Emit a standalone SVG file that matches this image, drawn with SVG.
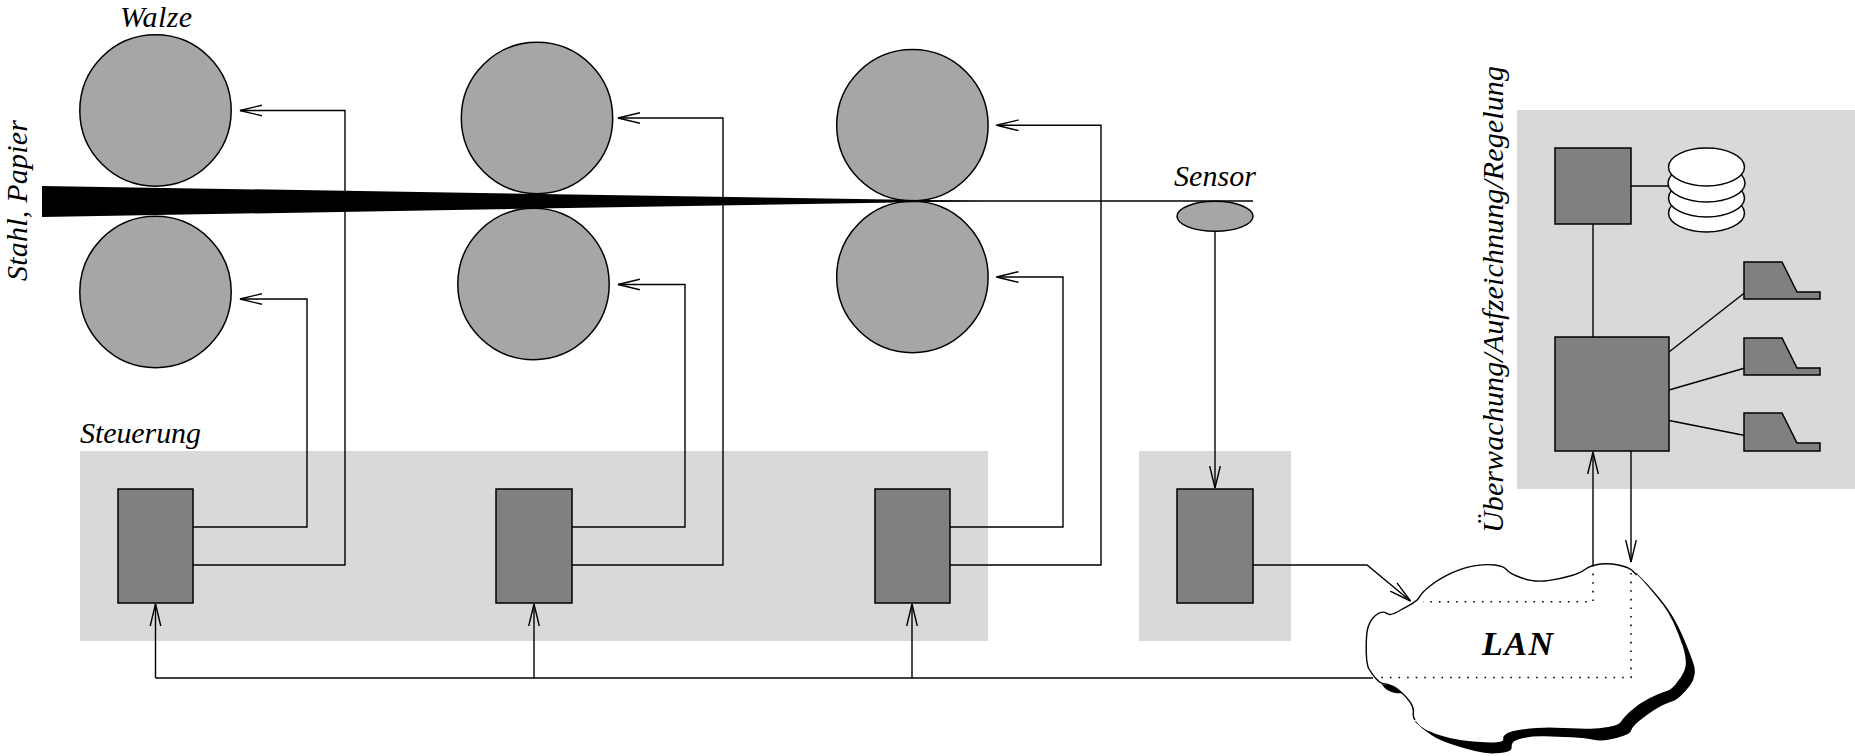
<svg xmlns="http://www.w3.org/2000/svg" width="1855" height="756" viewBox="0 0 1855 756">
<style>
.bg{fill:#d9d9d9;stroke:none}
.box{fill:#808080;stroke:#000;stroke-width:1.5}
.roll{fill:#a6a6a6;stroke:#000;stroke-width:1.5}
.disk{fill:#fff;stroke:#000;stroke-width:1.5}
.c{fill:none;stroke:#000;stroke-width:1.4}
.a{fill:none;stroke:#000;stroke-width:1.4;marker-end:url(#arr)}
.d{fill:none;stroke:#000;stroke-width:1.6;stroke-dasharray:1.6 7}
text{font-family:"Liberation Serif",serif;font-style:italic;font-size:30px;fill:#000}
</style>
<defs>
<marker id="arr" markerUnits="userSpaceOnUse" markerWidth="24" markerHeight="14" refX="22" refY="7" orient="auto"><path d="M0 1.7L22 7L0 12.3" fill="none" stroke="#000" stroke-width="1.4"/></marker>
</defs>
<rect class="bg" x="80" y="451" width="908" height="190"/>
<rect class="bg" x="1139" y="451" width="152" height="190"/>
<rect class="bg" x="1517" y="110" width="338" height="379"/>
<g id="rolls">
<circle class="roll" cx="155.5" cy="110.5" r="75.7"/>
<circle class="roll" cx="155.5" cy="292" r="75.7"/>
<circle class="roll" cx="537" cy="118" r="75.7"/>
<circle class="roll" cx="533.5" cy="284" r="75.7"/>
<circle class="roll" cx="912.4" cy="125.3" r="75.7"/>
<circle class="roll" cx="912.4" cy="277" r="75.7"/>
</g>
<path id="strip" d="M42 186L985 201L42 217Z" fill="#000"/>
<g id="lan">
<g transform="translate(1340 530) scale(.33333)">
<path d="M890,130 L920,160 Q965,210 982,235 Q1000,260 1015,290 Q1030,320 1042,352 Q1055,385 1060,400 Q1066,415 1064,432 Q1062,450 1051,465 Q1040,480 1025,495 Q1010,510 997,514 Q985,518 967,526 Q950,535 925,552 Q900,570 887,582 Q875,595 873,602 Q872,610 851,617 Q830,625 805,629 Q780,634 760,629 Q740,625 695,622 Q650,620 615,619 Q580,618 555,623 Q530,628 522,634 Q515,640 515,650 Q516,660 505,664 Q495,668 467,670 Q440,672 405,663 Q370,655 335,643 Q300,632 275,616 Q250,600 225,575Z" fill="#000"/>
<path d="M125,462 Q140,487 170,490 L190,490 L165,468Z" fill="#000"/>
<path d="M147,253 Q155,256 182,240 Q210,225 222,217 Q235,210 241,197 Q248,185 274,165 Q300,145 337,128 Q375,112 407,107 Q440,102 465,105 Q490,108 500,119 Q510,130 530,138 Q550,147 573,151 Q597,156 628,151 Q660,147 690,138 Q720,130 737,117 Q755,105 782,102 Q810,100 835,105 Q860,110 875,120 Q890,130 920,165 Q950,200 967,222 Q985,245 1000,277 Q1015,310 1028,347 Q1040,385 1037,407 Q1033,430 1014,453 Q998,478 978,484 Q958,490 928,505 Q898,520 873,542 Q848,565 843,575 Q838,585 804,591 Q770,598 735,596 Q700,594 645,593 Q590,592 550,598 Q510,604 499,611 Q488,618 490,626 Q492,633 481,635 Q470,638 435,637 Q400,636 365,631 Q330,626 300,616 Q270,606 255,598 Q240,590 229,575 Q218,560 220,547 Q222,535 211,517 Q200,500 182,485 Q165,470 152,466 Q140,462 130,461 Q120,460 107,445 Q95,430 87,417 Q80,405 79,372 Q78,340 80,315 Q82,290 93,272 Q105,255 116,250 Q128,245 134,247 Q140,250 147,253Z" fill="#fff"/>
<path d="M147,253 Q155,256 182,240 Q210,225 222,217 Q235,210 241,197 Q248,185 274,165 Q300,145 337,128 Q375,112 407,107 Q440,102 465,105 Q490,108 500,119 Q510,130 530,138 Q550,147 573,151 Q597,156 628,151 Q660,147 690,138 Q720,130 737,117 Q755,105 782,102 Q810,100 835,105 Q860,110 875,120 Q880,124 890,135 M225,570 Q218,560 220,547 Q222,535 211,517 Q200,500 182,485 Q165,470 152,466 Q140,462 130,461 Q120,460 107,445 Q95,430 87,417 Q80,405 79,372 Q78,340 80,315 Q82,290 93,272 Q105,255 116,250 Q128,245 134,247 Q140,250 147,253" fill="none" stroke="#000" stroke-width="4.2"/>
</g>
</g>
<g id="connectors">
<path class="c" d="M900 201H1253"/>
<path class="a" d="M193 527H307V299H240"/>
<path class="a" d="M193 565H345V110.500H240"/>
<path class="a" d="M572 527H685V284.500H618"/>
<path class="a" d="M572 565H723V118H618"/>
<path class="a" d="M950 527H1063V277H996.500"/>
<path class="a" d="M950 565H1101V125.300H996.500"/>
<path class="a" d="M1215 231V488"/>
<path class="a" d="M1253 565H1367L1410.500 601"/>
<path class="c" d="M1373 678H155.500"/>
<path class="a" d="M155.500 678V604"/>
<path class="a" d="M534 678V604"/>
<path class="a" d="M912 678V604"/>
<path class="a" d="M1593 565V452"/>
<path class="a" d="M1631 451V562"/>
<path class="c" d="M1631 186H1669"/>
<path class="c" d="M1593 224V337"/>
<path class="c" d="M1669 352L1745 292.500"/>
<path class="c" d="M1669 390L1745 368"/>
<path class="c" d="M1669 420.500L1745 435.500"/>
<path class="d" d="M1593 565V601.700H1423"/>
<path class="d" d="M1631 573V677.500H1377"/>
</g>
<g id="sensor"><ellipse class="roll" cx="1215" cy="216.300" rx="38" ry="15"/></g>
<g id="ctrl1"><rect class="box" x="118" y="489" width="75" height="114"/></g>
<g id="ctrl2"><rect class="box" x="496" y="489" width="76" height="114"/></g>
<g id="ctrl3"><rect class="box" x="875" y="489" width="75" height="114"/></g>
<g id="ctrl4"><rect class="box" x="1177" y="489" width="76" height="114"/></g>
<g id="server"><rect class="box" x="1555" y="148" width="76" height="76"/></g>
<g id="main"><rect class="box" x="1555" y="337" width="114" height="114"/></g>
<g id="db">
<ellipse class="disk" cx="1706.500" cy="213" rx="38" ry="19"/>
<ellipse class="disk" cx="1706.500" cy="198" rx="38" ry="19"/>
<ellipse class="disk" cx="1706.500" cy="183" rx="38.500" ry="19"/>
<ellipse class="disk" cx="1706.500" cy="167" rx="38" ry="19"/>
</g>
<g id="screen1"><path class="box" d="M1744 262H1782L1797 292H1820V299H1744Z"/></g>
<g id="screen2"><path class="box" d="M1744 338H1782L1797 368H1820V375H1744Z"/></g>
<g id="screen3"><path class="box" d="M1744 413H1782L1797 443H1820V451H1744Z"/></g>
<g id="labels">
<text x="120" y="27" textLength="72">Walze</text>
<text x="80" y="443" textLength="121">Steuerung</text>
<text x="1174" y="186" textLength="82">Sensor</text>
<text transform="translate(27 281) rotate(-90)" textLength="161">Stahl, Papier</text>
<text transform="translate(1503 533) rotate(-90)" textLength="467">Überwachung/Aufzeichnung/Regelung</text>
<text x="1482" y="655" textLength="71" style="font-weight:bold;font-size:34px">LAN</text>
</g>
</svg>
